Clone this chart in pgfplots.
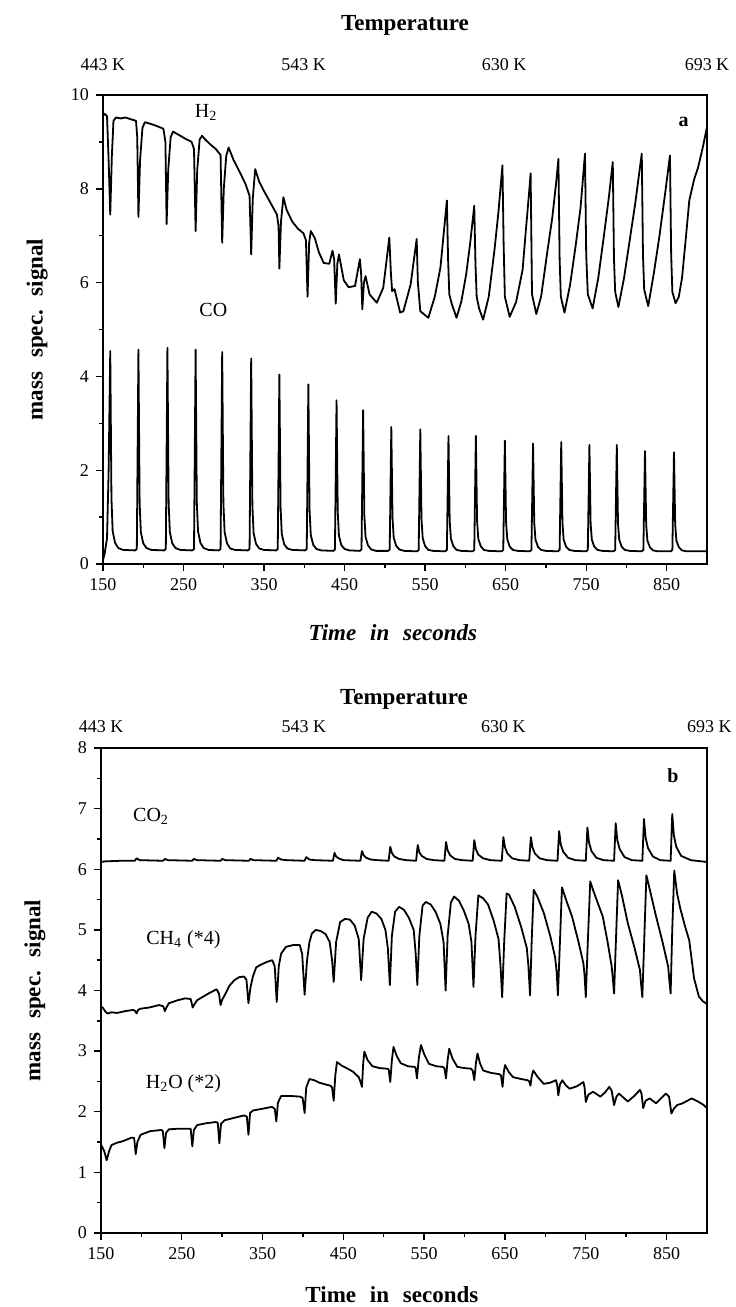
\documentclass[border=0pt]{standalone}
\usepackage{pgfplots}
\pgfplotsset{compat=1.18}
\usepackage{pgfplotstable}
\usepackage{fontspec}
\setmainfont{Liberation Serif}

% panel a: H2 and CO
\pgfplotstableread{
t y
150 9.55
152 9.60
155 9.55
157 8.60
159 7.45
161 8.70
163 9.45
166 9.52
172 9.50
178 9.52
185 9.48
191 9.45
192.5 9.10
194 7.40
196 8.60
199 9.30
202 9.42
210 9.38
218 9.33
225 9.28
227.5 9.00
229 7.25
231 8.40
234 9.10
237 9.22
244 9.15
252 9.07
260 9.00
263 8.85
265 7.10
267 8.40
270 9.05
273 9.13
277 9.05
283 8.95
290 8.85
296 8.72
298 6.85
300 8.00
303 8.70
306 8.88
312 8.62
320 8.35
327 8.10
332 7.85
334 6.60
336 7.80
339 8.42
344 8.15
350 7.95
358 7.70
366 7.45
368 7.20
369 6.30
371 7.30
374 7.82
378 7.55
385 7.30
392 7.15
399 7.05
402 6.90
404 5.70
406 6.85
408 7.10
413 6.95
418 6.65
424 6.42
431 6.40
435 6.68
437 6.50
439 5.55
441 6.40
443 6.60
449 6.05
455 5.90
463 5.93
469 6.50
470.5 6.20
472 5.43
474 6.00
476 6.14
481 5.75
490 5.57
498 5.89
505.5 6.96
507.5 6.20
509 5.82
512 5.86
519 5.36
523 5.39
532 5.96
539.5 6.93
541 6.00
544 5.39
554 5.25
562 5.70
569 6.32
577 7.75
578.5 6.50
580 5.75
583 5.55
589 5.25
595 5.60
601 6.18
606 6.85
611 7.64
612.5 6.40
614 5.70
617 5.45
622 5.21
629 5.70
636 6.68
641 7.50
646 8.50
647.5 6.80
649 5.70
655 5.27
663 5.59
671 6.27
675 7.10
679 7.90
681 8.33
682.7 5.75
688 5.33
694 5.70
702 6.69
708 7.40
713 8.18
715.5 8.64
717 6.50
718.5 5.70
723 5.36
730 5.95
737 6.80
743 7.60
748.5 8.75
750 6.60
752 5.75
758 5.45
765 6.10
772 7.00
778 7.80
783 8.57
784.5 6.50
786 5.80
790 5.48
797 6.10
804 6.90
811 7.70
819 8.75
820.5 6.60
822 5.85
827 5.50
834 6.20
841 7.00
848 7.90
854 8.71
855.5 6.60
857 5.80
861 5.56
865 5.70
869 6.10
874 7.00
878 7.75
884 8.20
889 8.46
895 8.90
900 9.32
}\htwo

\pgfplotstableread{
t y
150 0.08
152 0.22
155 0.55
157 2.00
159 4.54
160.5 1.40
162 0.70
165 0.45
169 0.34
175 0.30
190 0.29
192 0.32
194 4.57
195.5 1.30
197 0.68
200 0.44
204 0.34
210 0.30
226 0.29
228 0.32
230 4.61
231.5 1.30
233 0.68
236 0.44
240 0.34
246 0.30
261 0.29
263 0.32
265 4.57
266.5 1.30
268 0.70
271 0.45
275 0.34
281 0.30
294 0.29
296 0.32
298 4.52
299.5 1.30
301 0.68
304 0.44
308 0.33
314 0.30
330 0.29
332 0.32
334 4.38
335.5 1.25
337 0.66
340 0.43
344 0.33
350 0.30
365 0.29
367 0.32
369 4.04
370.5 1.20
372 0.64
375 0.42
379 0.33
385 0.30
401 0.29
403 0.32
405 3.83
406.5 1.15
408 0.62
411 0.41
415 0.32
421 0.29
436 0.28
438 0.31
440 3.49
441.5 1.10
443 0.60
446 0.40
450 0.32
456 0.29
469 0.28
471 0.31
473 3.28
474.5 1.05
476 0.58
479 0.40
483 0.31
489 0.28
504 0.28
506 0.31
508 2.92
509.5 0.98
511 0.56
514 0.39
518 0.31
524 0.28
540 0.27
542 0.30
544 2.87
545.5 0.95
547 0.55
550 0.38
554 0.30
560 0.28
575 0.27
577 0.30
579 2.73
580.5 0.92
582 0.54
585 0.38
589 0.30
595 0.28
609 0.27
611 0.30
613 2.73
614.5 0.92
616 0.54
619 0.38
623 0.30
629 0.28
645 0.27
647 0.30
649 2.63
650.5 0.90
652 0.53
655 0.37
659 0.30
665 0.28
680 0.27
682 0.30
684 2.57
685.5 0.88
687 0.52
690 0.37
694 0.30
700 0.28
715 0.27
717 0.30
719 2.60
720.5 0.88
722 0.52
725 0.37
729 0.30
735 0.28
750 0.27
752 0.30
754 2.54
755.5 0.86
757 0.52
760 0.37
764 0.30
770 0.28
784 0.27
786 0.30
788 2.54
789.5 0.86
791 0.52
794 0.37
798 0.30
804 0.28
819 0.27
821 0.30
823 2.41
824.5 0.84
826 0.50
829 0.36
833 0.29
839 0.27
855 0.27
857 0.30
859 2.38
860.5 0.84
862 0.50
865 0.36
869 0.29
875 0.27
900 0.27
}\co

% panel b: CO2, CH4 (*4), H2O (*2)
\pgfplotstableread{
t y
150 6.12
155 6.13
175 6.14
192 6.14
194 6.18
198 6.15
227 6.14
229 6.17
233 6.15
263 6.14
265 6.17
269 6.15
298 6.14
300 6.17
304 6.15
333 6.14
335 6.17
339 6.15
367 6.14
369 6.19
373 6.16
380 6.15
402 6.14
404 6.20
408 6.16
415 6.15
437 6.14
439 6.27
441 6.21
444 6.18
450 6.15
471 6.14
473 6.30
475 6.23
478 6.19
484 6.16
492 6.15
506 6.14
508 6.37
510 6.27
513 6.21
519 6.17
528 6.15
540 6.14
542 6.40
544 6.28
547 6.22
553 6.17
562 6.15
575 6.14
577 6.45
579 6.31
582 6.23
588 6.17
597 6.15
610 6.14
612 6.48
614 6.33
617 6.24
623 6.18
632 6.15
646 6.14
648 6.53
650 6.36
653 6.26
659 6.18
668 6.15
680 6.14
682 6.53
684 6.36
687 6.26
693 6.18
702 6.15
715 6.14
717 6.63
719 6.41
722 6.29
728 6.19
737 6.15
750 6.14
752 6.69
754 6.44
757 6.30
763 6.19
772 6.15
785 6.14
787 6.76
789 6.48
792 6.33
798 6.20
807 6.15
820 6.14
822 6.83
824 6.52
827 6.35
833 6.21
842 6.15
855 6.14
857 6.91
859 6.56
862 6.37
868 6.22
880 6.15
900 6.12
}\cotwo

\pgfplotstableread{
t y
150 3.73
152 3.72
155 3.66
158 3.62
163 3.64
170 3.63
180 3.66
190 3.68
192.5 3.66
194 3.62
196 3.68
199 3.70
210 3.72
222 3.76
227 3.74
229 3.66
231 3.72
234 3.79
245 3.84
254 3.87
261 3.86
263.5 3.72
266 3.78
269 3.84
283 3.95
293 4.02
296 3.95
298 3.76
300 3.85
303 3.92
309 4.08
315 4.17
321 4.22
327 4.23
330 4.18
332.5 3.79
335 4.05
338 4.23
342 4.38
347 4.42
355 4.47
362 4.50
365 4.40
367.5 3.81
370 4.40
373 4.61
379 4.72
388 4.75
396 4.75
399 4.60
402 3.93
405 4.50
408 4.80
411 4.94
416 5.00
422 4.98
428 4.93
433 4.80
436 4.50
438 4.14
441 4.80
446 5.13
452 5.18
458 5.17
464 5.07
469 4.85
472 4.17
475 4.85
480 5.20
485 5.30
491 5.27
497 5.18
502 5.00
505 4.70
507.5 4.09
510 4.90
514 5.30
519 5.38
525 5.33
531 5.20
537 5.00
539.5 4.60
541.5 4.09
544 4.90
548 5.40
552 5.46
558 5.42
564 5.30
570 5.10
574 4.80
576.5 4.00
579 4.90
583 5.45
587 5.55
593 5.48
599 5.32
605 5.10
608.5 4.80
611 4.06
613.5 4.90
617 5.57
623 5.52
629 5.42
636 5.15
642 4.85
644.5 4.40
646.5 3.89
649 4.80
652 5.60
655 5.58
662 5.38
670 5.05
677 4.70
679 4.40
681 3.92
683 4.80
685.5 5.66
690 5.55
698 5.28
706 4.90
712 4.55
714 4.30
715.5 3.92
718 4.80
720.5 5.70
726 5.48
733 5.22
741 4.80
747 4.45
748.5 4.25
750 3.89
752.5 4.80
755.5 5.80
760 5.62
771 5.22
777 4.80
782 4.40
783.5 4.20
785 3.95
787.5 4.90
790 5.82
795 5.55
802 5.11
810 4.72
817 4.34
818.5 4.10
820 3.89
822.5 4.90
825 5.90
830 5.62
837 5.22
845 4.80
852 4.39
853.5 4.15
855 3.95
857 5.00
859.5 5.98
863 5.60
867 5.35
873 5.05
878 4.83
884 4.20
890 3.90
895 3.82
900 3.78
}\chfour

\pgfplotstableread{
t y
150 1.45
151.5 1.42
154 1.35
157 1.20
160 1.35
163 1.45
170 1.49
176 1.51
182 1.54
187 1.57
191 1.57
193 1.30
195 1.50
199 1.62
205 1.65
211 1.68
218 1.69
225 1.70
226.5 1.68
228.5 1.40
230.5 1.65
234 1.71
245 1.72
257 1.72
261 1.72
263 1.43
265 1.70
269 1.78
280 1.81
292 1.83
294.5 1.82
296.5 1.48
298.5 1.80
303 1.86
315 1.90
327 1.94
330.5 1.92
332.5 1.62
334.5 1.98
338 2.02
350 2.05
361.5 2.08
365 2.05
367 1.84
369 2.15
373 2.26
385 2.26
396 2.25
399.5 2.23
402 1.98
404 2.40
408 2.54
414 2.52
420 2.48
428 2.45
434 2.43
436 2.40
438 2.18
440 2.60
442 2.82
448 2.76
454 2.72
462 2.66
469 2.57
471 2.50
473 2.41
474.5 2.80
476 2.99
480 2.85
486 2.75
495 2.72
504 2.71
506 2.70
508 2.49
510 2.85
512 3.07
516 2.92
521 2.80
530 2.75
538 2.74
539.5 2.72
541 2.55
543.5 2.90
546 3.10
550 2.95
556 2.79
565 2.75
573 2.74
575 2.72
577 2.55
579 2.85
581 3.04
585 2.88
591 2.74
600 2.72
608 2.71
610 2.68
612 2.52
614 2.80
616 2.96
619 2.80
623 2.68
633 2.64
643 2.62
645 2.60
647 2.41
648.5 2.65
650 2.77
655 2.65
660 2.57
670 2.54
678 2.52
680 2.50
681.5 2.43
683 2.58
685 2.68
690 2.58
698 2.46
706 2.48
713 2.52
714.5 2.45
716 2.27
718 2.45
721 2.52
725 2.44
730 2.38
739 2.42
747 2.49
748.5 2.40
750 2.16
753 2.28
759 2.33
768 2.25
774 2.32
779 2.41
782 2.35
785 2.11
788 2.25
791 2.30
796 2.24
802 2.17
810 2.26
817 2.36
819 2.30
821 2.06
824 2.18
829 2.22
837 2.14
843 2.22
849 2.30
853 2.25
856 1.97
859 2.05
863 2.11
870 2.14
881 2.22
890 2.16
895 2.12
900 2.06
}\htwoo

\tikzset{
  temp/.style={font=\fontsize{9}{11}\selectfont},
  curve/.style={font=\fontsize{10}{12}\selectfont},
  letter/.style={font=\fontsize{10}{12}\selectfont\bfseries},
}

\pgfplotsset{
  panel/.style={
    scale only axis,
    xmin=150, xmax=900,
    xtick={150,250,...,850},
    minor x tick num=1,
    tick pos=left,
    tick align=outside,
    major tick length=3.5pt,
    minor tick length=2pt,
    axis line style={line width=0.8pt},
    every tick/.style={black, line width=0.7pt},
    tick label style={font=\fontsize{9}{11}\selectfont},
    /pgf/number format/assume math mode=true,
    clip=false,
    title style={font=\fontsize{11.5}{13}\selectfont\bfseries, anchor=center},
    label style={font=\fontsize{11.5}{13}\selectfont\bfseries},
    ylabel={mass\hspace{0.6em}spec.\hspace{0.6em}signal},
    ylabel style={at={(axis description cs:-0.109,0.5)}, anchor=center},
    every axis plot post/.style={black, mark=none, line width=0.9pt, line join=round},
  },
}

\begin{document}
\begin{tikzpicture}
\path[use as bounding box] (-51.5pt,282pt) rectangle (316pt,-371.5pt);

\begin{axis}[
  panel,
  width=302pt, height=234.5pt,
  ymin=0, ymax=10,
  ytick={0,2,...,10},
  minor y tick num=1,
  title={Temperature},
  title style={at={(axis description cs:0.5,1.122)}},
  xlabel={\textit{Time\hspace{0.6em}in\hspace{0.6em}seconds}},
  xlabel style={at={(axis description cs:0.48,-0.147)}, anchor=center},
]
\addplot table[x=t, y=y] {\htwo};
\addplot table[x=t, y=y] {\co};
\node[temp, yshift=15pt] at (axis cs:150,10) {443 K};
\node[temp, yshift=15pt] at (axis cs:399,10) {543 K};
\node[temp, yshift=15pt] at (axis cs:648,10) {630 K};
\node[temp, yshift=15pt] at (axis cs:900,10) {693 K};
\node[curve] at (axis cs:278,9.62) {H\textsubscript{2}};
\node[curve] at (axis cs:287,5.42) {CO};
\node[letter] at (axis cs:871,9.42) {a};
\end{axis}

\begin{axis}[
  panel,
  at={(-1pt,-92pt)}, anchor=north west,
  width=303pt, height=242.5pt,
  ymin=0, ymax=8,
  ytick={0,1,...,8},
  minor y tick num=1,
  title={Temperature},
  title style={at={(axis description cs:0.5,1.076)}},
  xlabel={Time\hspace{0.6em}in\hspace{0.6em}seconds},
  xlabel style={at={(axis description cs:0.48,-0.128)}, anchor=center},
]
\addplot table[x=t, y=y] {\cotwo};
\addplot table[x=t, y=y] {\chfour};
\addplot table[x=t, y=y] {\htwoo};
\node[temp, yshift=10.5pt] at (axis cs:150,8) {443 K};
\node[temp, yshift=10.5pt] at (axis cs:401,8) {543 K};
\node[temp, yshift=10.5pt] at (axis cs:648,8) {630 K};
\node[temp, yshift=10.5pt] at (axis cs:903,8) {693 K};
\node[curve] at (axis cs:212,6.88) {CO\textsubscript{2}};
\node[curve] at (axis cs:252,4.83) {CH\textsubscript{4} (*4)};
\node[curve] at (axis cs:252,2.47) {H\textsubscript{2}O (*2)};
\node[letter] at (axis cs:858,7.55) {b};
\end{axis}
\end{tikzpicture}
\end{document}
